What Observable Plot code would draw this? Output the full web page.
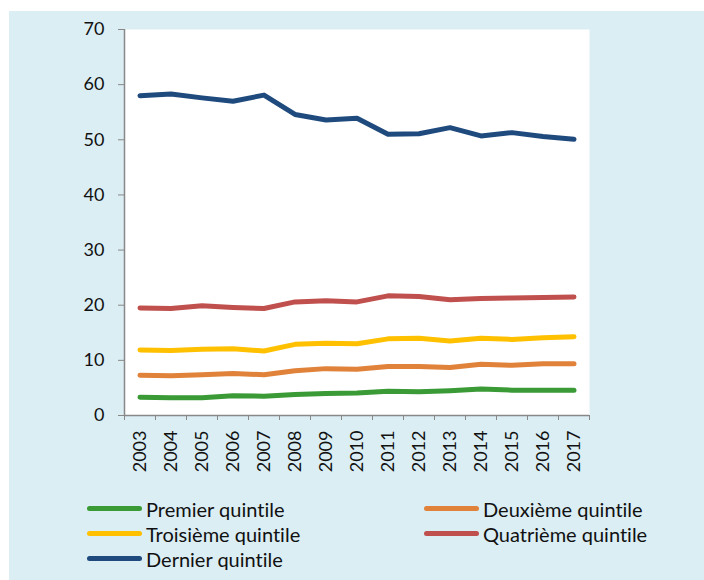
<!DOCTYPE html>
<html><head><meta charset="utf-8">
<script src="https://cdn.jsdelivr.net/npm/d3@7"></script>
<script src="https://cdn.jsdelivr.net/npm/@observablehq/plot@0.6"></script>
<style>
body{margin:0;background:#fff;width:704px;height:580px;position:relative;overflow:hidden;font-family:Lato,sans-serif;font-variant-ligatures:none;font-feature-settings:"liga" 0,"dlig" 0;}
#bg{position:absolute;left:9px;top:11px;right:0;bottom:0;background:#dbeef4;}
#chart{position:absolute;left:0;top:0;}
#legend{position:absolute;left:87px;top:496px;display:grid;grid-template-columns:337px auto;grid-auto-rows:25px;}
.item{display:flex;align-items:center;font-size:20px;color:#111;white-space:nowrap;}
.sw{width:55px;height:5px;border-radius:3px;margin-right:4px;flex:none;}
</style></head><body>
<div id="bg"></div><div id="chart"></div><div id="legend"></div>
<script>
const years = [2003,2004,2005,2006,2007,2008,2009,2010,2011,2012,2013,2014,2015,2016,2017];
const premier   = [3.3,3.2,3.2,3.6,3.5,3.8,4.0,4.1,4.4,4.3,4.5,4.8,4.6,4.6,4.6];
const deuxieme  = [7.3,7.2,7.4,7.6,7.4,8.1,8.5,8.4,8.9,8.9,8.7,9.3,9.1,9.4,9.4];
const troisieme = [11.9,11.8,12.0,12.1,11.7,12.9,13.1,13.0,13.9,14.0,13.5,14.0,13.8,14.1,14.3];
const quatrieme = [19.5,19.4,19.9,19.6,19.4,20.6,20.8,20.6,21.7,21.6,21.0,21.2,21.3,21.4,21.5];
const dernier   = [58.0,58.3,57.6,57.0,58.1,54.6,53.6,53.9,51.0,51.1,52.2,50.7,51.3,50.6,50.1];
const names  = ["Premier quintile","Deuxième quintile","Troisième quintile","Quatrième quintile","Dernier quintile"];
const colors = ["#3a9a35","#e0823a","#ffc000","#c0504d","#1f4a7e"];
const yTicks = [0,10,20,30,40,50,60,70];

const seriesValues = [premier, deuxieme, troisieme, quatrieme, dernier];
const data = seriesValues.flatMap((vals, i) => years.map((y, j) => ({year: y, value: vals[j], name: names[i]})));
const bounds = [...years.map(y => y - 0.5), years[years.length - 1] + 0.5];

const chart = Plot.plot({
  width: 704, height: 480,
  marginLeft: 124, marginRight: 115, marginTop: 29, marginBottom: 65,
  style: {background: "transparent", fontFamily: "Lato, sans-serif", fontSize: "18px", color: "#000"},
  x: {domain: [bounds[0], bounds[bounds.length - 1]], label: null},
  y: {domain: [0, 70], label: null},
  color: {domain: names, range: colors},
  marks: [
    Plot.frame({fill: "white", stroke: null}),
    Plot.axisY({ticks: yTicks, tickSize: 6, tickFormat: () => "", color: "#888", label: null}),
    Plot.axisY({ticks: yTicks, tickSize: 0, tickPadding: 20, tickFormat: d => String(d), color: "#111", fontSize: 18, label: null}),
    Plot.axisX({ticks: bounds, tickSize: 5, tickFormat: () => "", color: "#888", label: null}),
    Plot.axisX({ticks: years, tickSize: 0, tickPadding: 15, tickRotate: -90, tickFormat: d => String(d), color: "#111", fontSize: 18, label: null}),
    Plot.ruleX([bounds[0]], {stroke: "#888", strokeWidth: 1.5}),
    Plot.ruleY([0], {stroke: "#888", strokeWidth: 1.5}),
    Plot.line(data, {x: "year", y: "value", z: "name", stroke: "name", strokeWidth: 5, strokeLinecap: "round", strokeLinejoin: "round"})
  ]
});
document.getElementById("chart").appendChild(chart);

const legend = document.getElementById("legend");
names.forEach((n, i) => {
  const it = document.createElement("div");
  it.className = "item";
  const sw = document.createElement("span");
  sw.className = "sw";
  sw.style.background = colors[i];
  const tx = document.createElement("span");
  tx.textContent = n;
  it.appendChild(sw); it.appendChild(tx);
  legend.appendChild(it);
});
</script>
</body></html>
